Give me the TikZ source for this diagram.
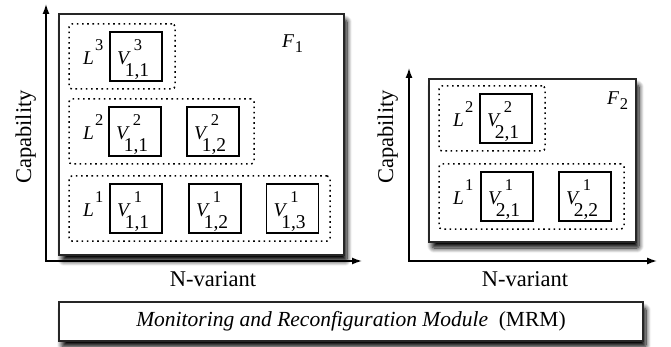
\documentclass[tikz,border=0pt]{standalone}
\usepackage{fontspec}
\setmainfont{Liberation Serif}
\usetikzlibrary{arrows.meta,shadows.blur}
\newcommand\fsz[1]{\fontsize{#1}{#1}\selectfont}
\tikzset{
  frame/.style={draw=black!85, line width=1.4pt, fill=white, inner sep=0pt,
    blur shadow={shadow xshift=3pt, shadow yshift=-6pt, shadow blur radius=5pt,
      shadow blur steps=10, shadow opacity=100, shadow blur extra rounding=2pt}},
  lvl/.style={draw, line width=1.5pt, dash pattern=on 1.6pt off 3.6pt, rounded corners=3pt,
    minimum height=65pt, inner sep=0pt},
  vb/.style={draw, line width=1.1pt, minimum width=52pt, minimum height=49pt, inner sep=0pt},
  vtxt/.style={font=\fsz{19.5}, inner sep=0pt},
  ptxt/.style={font=\fsz{16.5}, inner sep=0pt},
  big/.style={font=\fsz{22.5}, inner sep=0pt},
  axis/.style={line width=1.4pt, {Latex[length=10pt,width=7pt]}-{Latex[length=10pt,width=7pt]}},
  pics/vbx/.style 2 args={code={
    \node[vb] (-box) at (0,0) {};
    \node[vtxt, anchor=base west] (-v) at (-19,8) {\textit{V}};
    \node[vtxt, anchor=base] (-sub) at (1,20) {#2};
    \node[ptxt, anchor=base] (-sup) at (2,-6) {#1};
  }}
}
\newcommand\Lab[1]{\textit{L}\kern1pt\raisebox{14pt}{\fsz{16.5}#1}}
\newcommand\Flab[1]{\textit{F}\kern0.5pt\raisebox{-5pt}{\fsz{16.5}#1}}
\begin{document}
\begin{tikzpicture}[x=1pt,y=-1pt]
\useasboundingbox (0,0) rectangle (671,347);
% ---- left panel ----
\coordinate (o1) at (46,261);
\coordinate (y1) at (46,4);
\coordinate (x1) at (362,261);
\draw[axis] (y1) -- (o1) -- (x1);
\node[frame, minimum width=285pt, minimum height=241pt] (F1) at (201.5,134.5) {};
\node[vtxt, anchor=base west] (F1l) at (282,48) {\Flab{1}};
\node[lvl, minimum width=106pt] (L13) at (122,56.5) {};
\node[lvl, minimum width=185pt] (L12) at (161.5,131.5) {};
\node[lvl, minimum width=261pt] (L11) at (199.5,208.5) {};
\node[vtxt, anchor=base west] (L13l) at (83,64.5) {\Lab{3}};
\node[vtxt, anchor=base west] (L12l) at (83,139.5) {\Lab{2}};
\node[vtxt, anchor=base west] (L11l) at (83,216.5) {\Lab{1}};
\pic (v311) at (136,56.5) {vbx={3}{1,1}};
\pic (v211) at (135,131.5) {vbx={2}{1,1}};
\pic (v212) at (213,131.5) {vbx={2}{1,2}};
\pic (v111) at (136,208.5) {vbx={1}{1,1}};
\pic (v112) at (215,208.5) {vbx={1}{1,2}};
\pic (v113) at (292.5,208.5) {vbx={1}{1,3}};
\node[big, anchor=base, rotate=90] (cap1) at (31,137) {Capability};
\node[big, anchor=base] (nv1) at (213,286) {N-variant};
% ---- right panel ----
\coordinate (o2) at (409,261);
\coordinate (y2) at (409,68);
\coordinate (x2) at (657,261);
\draw[axis] (y2) -- (o2) -- (x2);
\node[frame, minimum width=207pt, minimum height=163pt] (F2) at (532.5,160.5) {};
\node[vtxt, anchor=base west] (F2l) at (607,105) {\Flab{2}};
\node[lvl, minimum width=106pt] (L22) at (492,118.5) {};
\node[lvl, minimum width=185pt] (L21) at (531.5,196.5) {};
\node[vtxt, anchor=base west] (L22l) at (453,126.5) {\Lab{2}};
\node[vtxt, anchor=base west] (L21l) at (453,204.5) {\Lab{1}};
\pic (v221) at (506,118.5) {vbx={2}{2,1}};
\pic (v121) at (507,196.5) {vbx={1}{2,1}};
\pic (v122) at (585,196.5) {vbx={1}{2,2}};
\node[big, anchor=base, rotate=90] (cap2) at (393,137) {Capability};
\node[big, anchor=base] (nv2) at (525,286) {N-variant};
% ---- MRM ----
\node[frame, minimum width=584pt, minimum height=39pt, font=\fsz{21.5}] (mrm) at (351,321.5)
  {\textit{Monitoring and Reconfiguration Module}\ \ (MRM)};
\end{tikzpicture}
\end{document}
